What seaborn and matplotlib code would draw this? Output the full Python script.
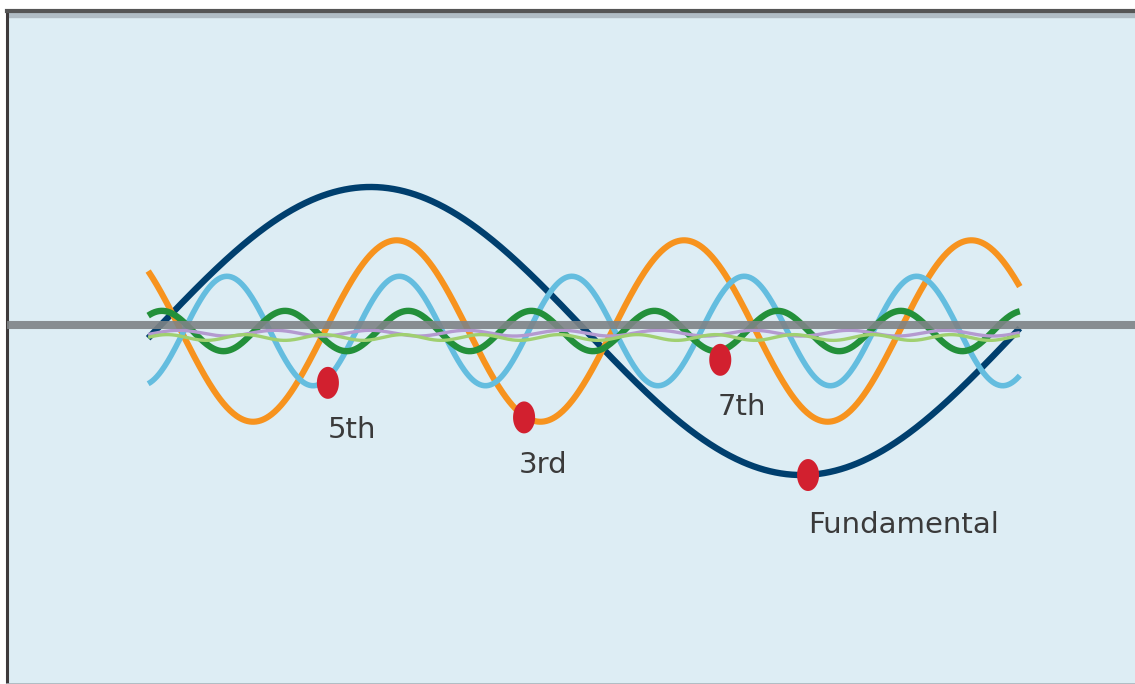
import numpy as np
import pandas as pd
import matplotlib
matplotlib.use('Agg')
import matplotlib.pyplot as plt
from matplotlib import font_manager
from matplotlib.path import Path
from matplotlib.patches import Rectangle
import seaborn as sns

# Harmonic components (amplitude relative to the fundamental)
orders = [1, 3, 5, 7, 9, 11]
amplitudes = [1.0, 0.63, 0.38, 0.14, 0.02, 0.02]
phases = [0.0, 2.57, -1.05, 1.22, 0.0, 0.6]
offsets = [0.0, 0.0, 0.0, 0.0, -0.015, -0.045]
colors = ['#003F6E', '#F7931E', '#64BDDF', '#23903A', '#B49AD0', '#A0D070']
widths = [4.6, 4.4, 4.0, 4.6, 2.4, 2.4]
draw_order = [0, 2, 1, 3, 4, 5]

# Red markers and their labels
dot_labels = ['5th', '3rd', '7th', 'Fundamental']
dot_x = [1.26, 2.69, 4.12, 4.76]
dot_y = [-0.36, -0.60, -0.20, -1.00]
label_x = [1.26, 2.65, 4.10, 4.76]
label_y = [-0.69, -0.93, -0.53, -1.35]

axis_level = 0.04

theta = np.linspace(-0.05, 2 * np.pi + 0.02, 800)

fig = plt.figure(figsize=(11.35, 6.84), dpi=100)
ax = fig.add_axes([7 / 1135, 0, 1 - 7 / 1135, 1 - 11 / 684])
ax.set_facecolor('#DDEDF4')

for i in draw_order:
    wave = offsets[i] + amplitudes[i] * np.sin(orders[i] * theta + phases[i])
    df = pd.DataFrame({'theta': theta, 'value': wave})
    sns.lineplot(data=df, x='theta', y='value', color=colors[i],
                 linewidth=widths[i], sort=False, ax=ax, zorder=2 + i * 0.1,
                 solid_capstyle='butt')

ax.axhline(axis_level, color='#7E8386', linewidth=5.8, alpha=0.9, zorder=3)

t = np.linspace(0, 2 * np.pi, 60)
ellipse = Path(np.column_stack([np.cos(t), 1.45 * np.sin(t)]))
dots = pd.DataFrame({'x': dot_x, 'y': dot_y})
sns.scatterplot(data=dots, x='x', y='y', marker=ellipse, s=530,
                color='#D2202F', edgecolor='none', ax=ax, zorder=4)

names = {f.name for f in font_manager.fontManager.ttflist}
if 'Liberation Sans Narrow' in names:
    fam, fs = 'Liberation Sans Narrow', 29
else:
    fam, fs = 'DejaVu Sans', 21
for lx, ly, lab in zip(label_x, label_y, dot_labels):
    ax.text(lx, ly, lab, fontsize=fs, family=fam, color='#3A3A3A',
            ha='left', va='center', zorder=5)

ax.set_xlim(-1.079, 7.143)
ax.set_ylim(-2.451, 2.222)
ax.set_xticks([])
ax.set_yticks([])
ax.set_xlabel('')
ax.set_ylabel('')

ax.spines['right'].set_visible(False)
ax.spines['top'].set_color('#555555')
ax.spines['top'].set_linewidth(3)
ax.spines['left'].set_color('#3E3A3B')
ax.spines['left'].set_linewidth(2.2)
ax.spines['bottom'].set_color('#A9B4BB')
ax.spines['bottom'].set_linewidth(1.2)
ax.add_patch(Rectangle((0, 1 - 6 / 673), 1, 5 / 673, transform=ax.transAxes,
                       color='#B0BCC4', zorder=1))

fig.savefig('out.png', dpi=100)
